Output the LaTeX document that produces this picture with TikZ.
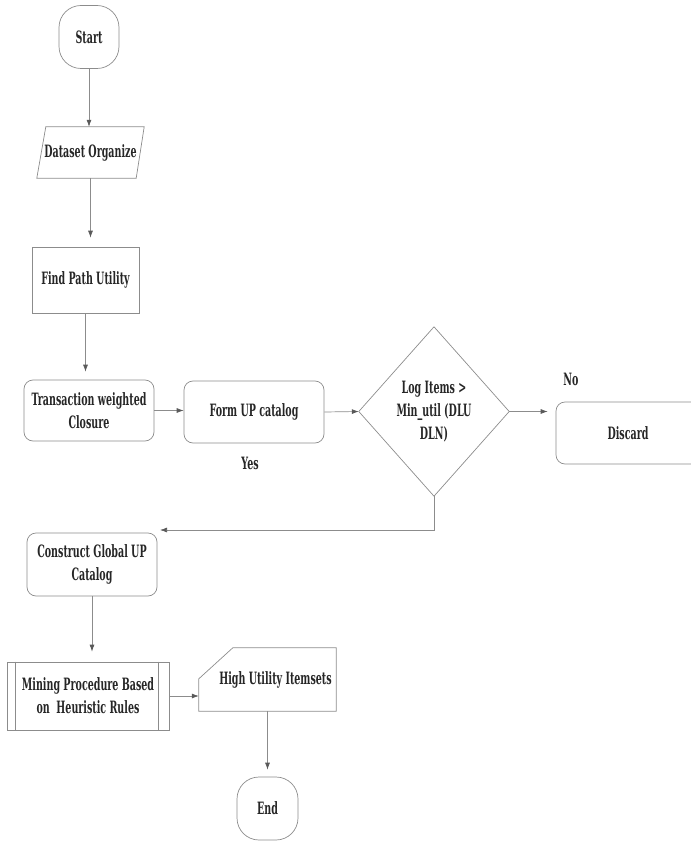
\documentclass[tikz,border=0pt]{standalone}
\usepackage{fontspec}
\setmainfont{DejaVu Serif}[FakeStretch=0.56]
\usetikzlibrary{arrows.meta}
\definecolor{lncol}{gray}{0.55}
\definecolor{tipcol}{gray}{0.35}
\definecolor{txtcol}{gray}{0.15}
\begin{document}
\begin{tikzpicture}[x=1pt,y=-1pt,
  every node/.style={font=\bfseries\fontsize{17}{23}\selectfont, text=txtcol, align=center, inner sep=0pt},
  line/.style={draw=lncol, line width=0.7pt},
  arr/.style={line, -{Latex[length=7pt,width=5pt,color=tipcol]}},
  term/.style={line, rounded corners=22pt},
  rbox/.style={line, rounded corners=9pt},
  pbox/.style={line},
  ghost/.style={draw=none}]
\useasboundingbox (0,0) rectangle (690,842);

% nodes
\node[term, minimum width=60pt, minimum height=63pt] (start) at (89,37) {Start};
\node[ghost, minimum width=107pt, minimum height=51pt] (data) at (90.5,152.5) {Dataset Organize};
\draw[line] ([xshift=9pt]data.north west) -- (data.north east) -- ([xshift=-8pt]data.south east) -- (data.south west) -- cycle;
\node[pbox, minimum width=107pt, minimum height=66pt] (find) at (85.5,280) {Find Path Utility};
\node[rbox, minimum width=130pt, minimum height=61pt] (trans) at (89,410.5) {Transaction weighted\\Closure};
\node[rbox, minimum width=140pt, minimum height=62pt] (form) at (254,412) {Form UP catalog};
\node[ghost, minimum width=150pt, minimum height=169pt] (dia) at (434,411.5) {Log Items >\\Min\_util (DLU\\DLN)};
\draw[line] (dia.west) -- (dia.north) -- (dia.east) -- (dia.south) -- cycle;
\node[rbox, minimum width=150pt, minimum height=62pt, text width=150pt] (disc) at (631,433) {\hspace*{-6pt}Discard};
\node (no) at (571,379) {No};
\node (yes) at (250,463) {Yes};
\coordinate (yesend) at (160,530);
\node[rbox, minimum width=130pt, minimum height=63pt] (cons) at (92,564.5) {Construct Global UP\\Catalog};
\node[pbox, minimum width=162pt, minimum height=68pt] (mine) at (88,696) {Mining Procedure Based\\on\ \ Heuristic Rules};
\draw[line] ([xshift=9pt]mine.north west) -- ([xshift=9pt]mine.south west);
\draw[line] ([xshift=-11pt]mine.north east) -- ([xshift=-11pt]mine.south east);
\node[ghost, minimum width=137pt, minimum height=63pt] (hui) at (267.5,679.5) {\hspace*{16pt}High Utility Itemsets};
\draw[line] ([xshift=34pt]hui.north west) -- (hui.north east) -- (hui.south east) -- (hui.south west) -- ([yshift=-31pt]hui.north west) -- cycle;
\node[term, minimum width=61pt, minimum height=63pt] (end) at (267.5,808.5) {End};

% connectors
\draw[arr] (start.south) -- (start.south |- data.north);
\draw[arr, shorten >=9pt] (data.south) -- (data.south |- find.north);
\draw[arr, shorten >=8pt] (find.south) -- (find.south |- trans.north);
\draw[arr] (trans.east) -- (trans.east -| form.west);
\draw[arr] (form.east) -- (dia.west);
\draw[arr, shorten >=8pt] (dia.east) -- (dia.east -| disc.west);
\draw[arr] (dia.south) |- (yesend);
\draw[arr, shorten >=10pt] (cons.south) -- (cons.south |- mine.north);
\draw[arr] (mine.east) -- (mine.east -| hui.west);
\draw[arr, shorten >=7pt] (hui.south) -- (hui.south |- end.north);
\end{tikzpicture}
\end{document}
